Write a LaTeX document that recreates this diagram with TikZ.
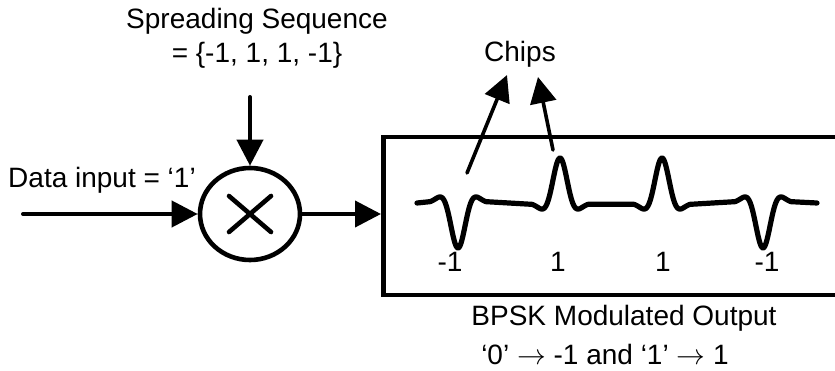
\documentclass[tikz,border=0pt]{standalone}
\usepackage{fontspec}
\setmainfont{Liberation Sans}
\usetikzlibrary{arrows.meta,shapes.geometric}

\begin{document}
\begin{tikzpicture}[x=.5pt,y=.5pt,>={Triangle[length=13pt,width=13pt]},line width=2pt,line cap=round,
  font=\fontsize{14}{16.8}\selectfont,
  mixer/.style={draw,ellipse,minimum width=50pt,minimum height=46pt,inner sep=0pt,line width=2.3pt},
  outbox/.style={draw,rectangle,minimum width=232pt,minimum height=79pt,line width=2.3pt,anchor=west,line cap=butt},
  wave/.style={line width=2.6pt,line join=round},
  chiparrow/.style={->,line width=1.8pt}]
  \useasboundingbox (0,0) rectangle (835,370);
  \clip (0,0) rectangle (835,370);
  % spreading multiplier
  \node[mixer] (mix) at (250,156) {};
  \draw[line width=2.3pt] (mix.center) ++(-21,-18) -- ++(42,36);
  \draw[line width=2.3pt] (mix.center) ++(-21,18) -- ++(42,-36);
  \node[align=center] (seq) at (257,332) {Spreading Sequence\\= \{-1, 1, 1, -1\}};
  \coordinate (sq) at (250,273);
  \draw[->] (sq) -- (mix);
  \node (dlab) at (102,190) {Data input = ‘1’};
  \coordinate (din) at (23,156);
  \draw[->] (din) -- (mix);
  % output block
  \node[outbox] (box) at (381,154) {};
  \draw[->] (mix) -- (mix -| box.west);
  \coordinate (w0) at (417,167);
  \coordinate (w1) at (817,167);
  \draw[wave] (w0) \foreach \c/\s in {458/-1,560/1,662/1,763/-1}{
    -- plot[domain=-28:28,samples=57] ({\c+\x},{167+\s*45*(1-\x*\x/161.3)*exp(-\x*\x/161.3)})
  } -- (w1);
  \foreach \xx/\vv [count=\i] in {450/-1,558/1,663/1,767/-1}
    \node (val\i) at (\xx,108) {\vv};
  % chips
  \node (chips) at (520,316) {Chips};
  \coordinate (cA) at (467,197);
  \coordinate (cB) at (553,220);
  \coordinate (tA) at (507,295);
  \coordinate (tB) at (538,293);
  \draw[chiparrow] (cA) -- (tA);
  \draw[chiparrow] (cB) -- (tB);
  \node (bpsk) at (624,52) {BPSK Modulated Output};
  \node (map) at (605,16) {‘0’ $\rightarrow$ -1 and ‘1’ $\rightarrow$ 1};
\end{tikzpicture}
\end{document}
